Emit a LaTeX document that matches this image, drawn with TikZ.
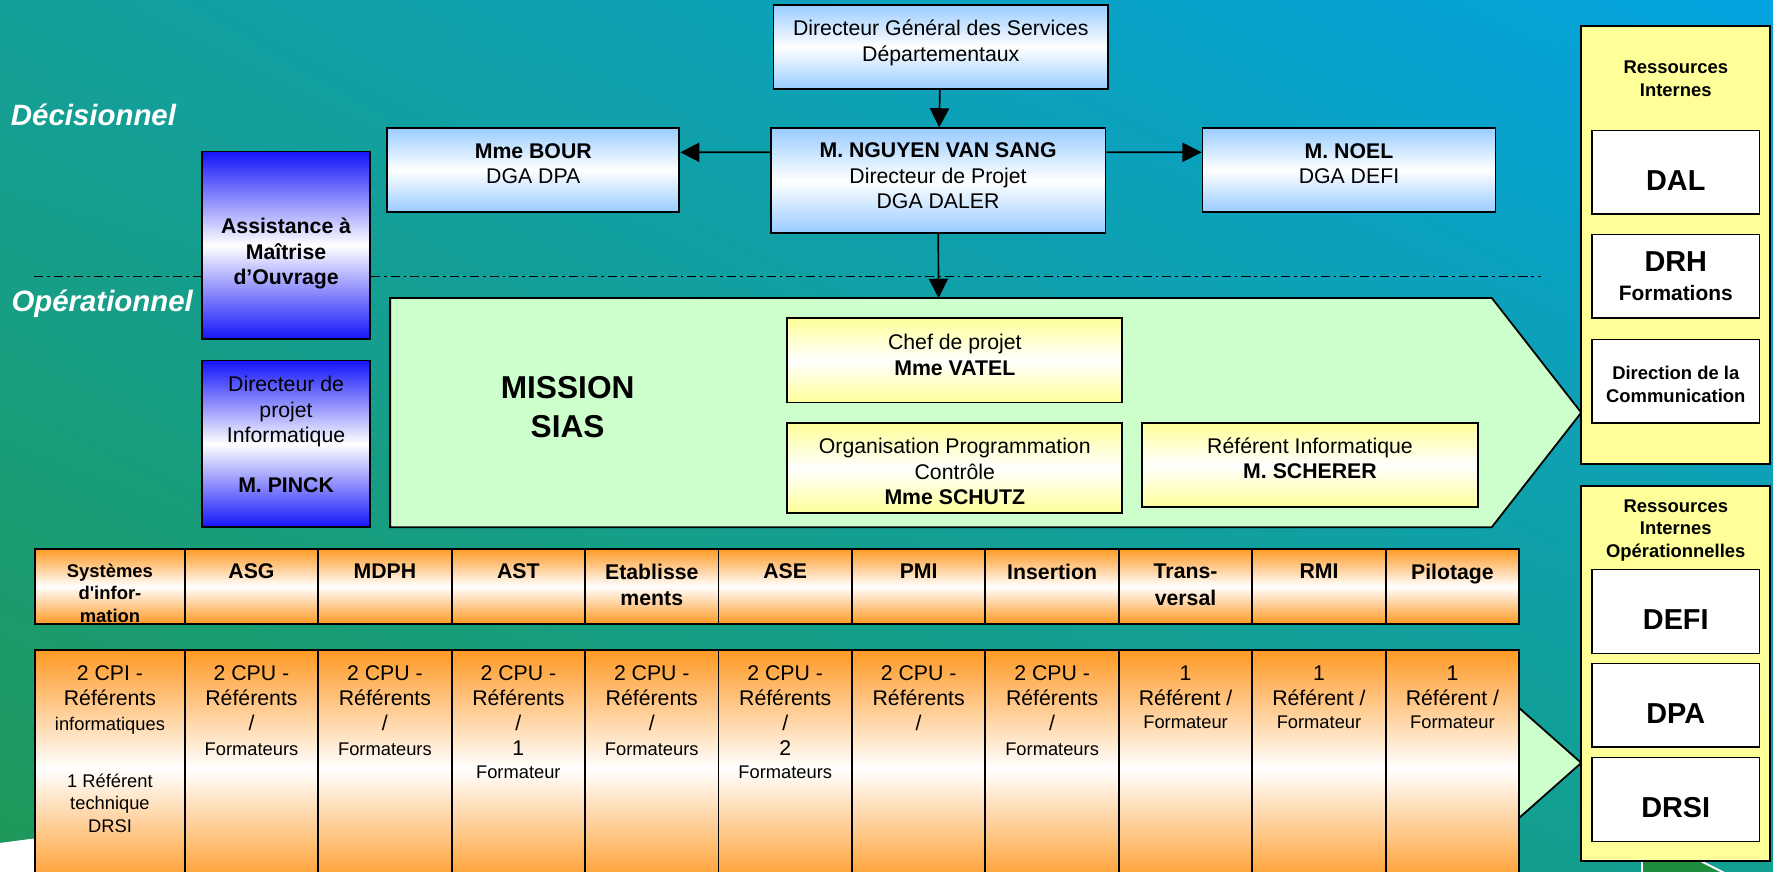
\documentclass[tikz,border=0pt]{standalone}
\usepackage{fontspec}
\setmainfont{Liberation Sans}
\usepackage{tikz}
\usetikzlibrary{shapes,shadings,arrows.meta}

\definecolor{bgtl}{RGB}{19,160,154}
\definecolor{bgtr}{RGB}{4,163,226}
\definecolor{bgbl}{RGB}{31,153,88}
\definecolor{bgbr}{RGB}{18,160,148}
\definecolor{paleblue}{RGB}{153,204,255}
\definecolor{deepblue}{RGB}{20,20,250}
\definecolor{paleyellow}{RGB}{255,255,153}
\definecolor{missiongreen}{RGB}{204,255,204}
\definecolor{deptorange}{RGB}{255,153,36}
\definecolor{logogreen}{RGB}{30,140,60}

\newcommand{\txtnormal}{\fontsize{18.8}{22.5}\selectfont}
\newcommand{\txtcell}{\fontsize{18.8}{22}\selectfont}
\newcommand{\txtsmall}{\fontsize{16.2}{20}\selectfont}
\newcommand{\txtpanel}{\fontsize{16.3}{20}\selectfont\bfseries}
\newcommand{\txtbig}{\fontsize{25.5}{30}\selectfont\bfseries}
\newcommand{\txtlevel}{\fontsize{26}{30}\selectfont\bfseries\itshape}
\newcommand{\txtmission}{\fontsize{28}{34}\selectfont\bfseries}

\begin{document}
\begin{tikzpicture}[x=1pt, y=-1pt,
  box/.style={draw, line width=1.6pt, align=center, font=\txtnormal, inner sep=2pt},
  bluebox/.style={box, top color=paleblue, bottom color=paleblue, middle color=white},
  deepbox/.style={box, top color=deepblue, bottom color=deepblue, middle color=white, minimum width=149pt},
  yellowbox/.style={box, top color=paleyellow, bottom color=paleyellow, middle color=white, minimum width=296.3pt},
  panel/.style={draw, line width=1.6pt, fill=paleyellow, minimum width=167pt},
  paneltext/.style={align=center, inner sep=0pt, font=\txtpanel},
  whitebox/.style={draw, line width=1.3pt, fill=white, minimum width=148pt, minimum height=74pt, align=center},
  bigname/.style={font=\txtbig, text height=32pt, text depth=0pt},
  headcell/.style={draw, line width=1.6pt, top color=deptorange, bottom color=deptorange, middle color=white, minimum height=66.6pt},
  bodycell/.style={draw, line width=1.6pt, top color=deptorange, bottom color=deptorange, middle color=white, minimum height=210pt},
  celltext/.style={anchor=north, inner sep=0pt, align=center},
  leveltext/.style={anchor=west, inner sep=0pt, text=white, font=\txtlevel},
  levelline/.style={line width=1.3pt, dash pattern=on 8pt off 3.5pt on 2.5pt off 3.5pt},
  link/.style={line width=1.5pt, -{Triangle[length=17pt,width=17pt]}},
]
\useasboundingbox (0,0) rectangle (1568,771);
\clip (0,0) rectangle (1568,771);
% slide background
\shade[upper left=bgtl, upper right=bgtr, lower left=bgbl, lower right=bgbr] (0,0) rectangle (1568,771);
\fill[white] (0,745.5) .. controls (12,744) and (25,742) .. (40,740.5) -- (40,775) -- (0,775) -- cycle;
\fill[logogreen] (1452,762) -- (1505,762) -- (1527,775) -- (1452,775) -- cycle;
\draw[white, line width=2pt] (1452,762) -- (1452,775);
\draw[white, line width=1.6pt] (1505,762) -- (1527,773);

% levels
\node[leveltext] (decision) at (9.5,101.7) {Décisionnel};
\node[leveltext] (operation) at (10,269) {Opérationnel};
\draw[levelline] (30.4,244.6) -- (1363,244.6);

% direction (trailing empty lines lift the text as on the slide)
\node[bluebox, minimum width=296pt, minimum height=74.3pt] (dgs) at (832,41.5) {Directeur Général des Services\\Départementaux\\[-11.5pt]\mbox{}};
\node[bluebox, minimum width=296pt, minimum height=92.2pt] (nguyen) at (829.6,159.6) {\textbf{M. NGUYEN VAN SANG}\\Directeur de Projet\\DGA DALER\\[-14.5pt]\mbox{}};
\node[bluebox, minimum width=258.4pt, minimum height=74.5pt] (bour) at (471.6,150.2) {\textbf{Mme BOUR}\\DGA DPA\\[-11.5pt]\mbox{}};
\node[bluebox, minimum width=259pt, minimum height=74.5pt] (noel) at (1193,150.2) {\textbf{M. NOEL}\\DGA DEFI\\[-11.5pt]\mbox{}};

% assistance and IT project director
\node[deepbox, minimum height=166pt, font=\txtnormal\bfseries] (amo) at (253,217) {\mbox{}\\[6.3pt]Assistance à\\Maîtrise\\d’Ouvrage};
\node[deepbox, minimum height=147.6pt] (pinck) at (253,392.6) {Directeur de\\projet\\Informatique\\[21.7pt]\textbf{M. PINCK}\\[-5.5pt]\mbox{}};

% mission
\draw[line width=1.6pt, fill=missiongreen] (345,263.5) -- (1319.3,263.5) -- (1398.4,364.9) -- (1319.3,466.2) -- (345,466.2) -- cycle;
\coordinate (missiontop) at (830,263.5);
\node[font=\txtmission, align=center] (mission) at (502,360) {MISSION\\SIAS};
\node[yellowbox, minimum height=74.6pt] (chef) at (844.4,318.7) {Chef de projet\\\textbf{Mme VATEL}\\[-12.5pt]\mbox{}};
\node[yellowbox, minimum height=79.6pt] (opc) at (844.4,414) {\mbox{}\\[-2.8pt]Organisation Programmation\\Contrôle\\\textbf{Mme SCHUTZ}};
\node[yellowbox, minimum width=297pt, minimum height=74.3pt] (scherer) at (1158.5,411.4) {Référent Informatique\\\textbf{M. SCHERER}\\[-10.5pt]\mbox{}};

\draw[link] (dgs) -- (nguyen);
\draw[link] ([yshift=24.9pt]nguyen.west) -- ([yshift=15.5pt]bour.east);
\draw[link] ([yshift=24.9pt]nguyen.east) -- ([yshift=15.5pt]noel.west);
\draw[link] (nguyen) -- (missiontop);

% departments
\draw[line width=1.6pt, fill=missiongreen] (1343.5,626.1) -- (1398.4,674.7) -- (1343.5,723.3);
\node[headcell, minimum width=132.3pt] (head1) at (97.25,518.6) {};
\node[celltext, font=\txtpanel] (headtext1) at (97.25,498.2) {Systèmes\\d\textquotesingle infor-\\mation};
\node[bodycell, minimum width=132.3pt] (body1) at (97.25,679.6) {};
\node[celltext, font=\txtcell] (bodytext1) at (97.25,588.5) {2 CPI -\\Référents\\{\txtsmall informatiques}\\[28.5pt]{\txtsmall 1 Référent}\\[-2pt]{\txtsmall technique}\\[-2pt]{\txtsmall DRSI}};
\foreach \i/\name in {2/ASG, 3/MDPH, 4/AST, 5/{Etablisse\\ments}, 6/ASE, 7/PMI, 8/Insertion, 9/{Trans-\\versal}, 10/RMI, 11/Pilotage} {
  \pgfmathsetmacro{\xc}{163.4+(\i-2)*118.01+59}
  \node[headcell, minimum width=118.01pt] (head\i) at (\xc,518.6) {};
  \node[celltext, font=\fontsize{18.8}{23.5}\selectfont\bfseries] (headtext\i) at (\xc,498.5) {\name};
}
\foreach \i/\staff in {2/{2 CPU -\\Référents\\/\\{\txtsmall Formateurs}},
    3/{2 CPU -\\Référents\\/\\{\txtsmall Formateurs}},
    4/{2 CPU -\\Référents\\/\\1\\[-1pt]{\txtsmall Formateur}},
    5/{2 CPU -\\Référents\\/\\{\txtsmall Formateurs}},
    6/{2 CPU -\\Référents\\/\\2\\[-1pt]{\txtsmall Formateurs}},
    7/{2 CPU -\\Référents\\/},
    8/{2 CPU -\\Référents\\/\\{\txtsmall Formateurs}},
    9/{1\\Référent /\\[-1.5pt]{\txtsmall Formateur}},
    10/{1\\Référent /\\[-1.5pt]{\txtsmall Formateur}},
    11/{1\\Référent /\\[-1.5pt]{\txtsmall Formateur}}} {
  \pgfmathsetmacro{\xc}{163.4+(\i-2)*118.01+59}
  \node[bodycell, minimum width=118.01pt] (body\i) at (\xc,679.6) {};
  \node[celltext, font=\txtcell] (bodytext\i) at (\xc,588.5) {\staff};
}

% internal resources
\node[panel, minimum height=387.7pt] (resint) at (1482,216.5) {};
\node[paneltext] (resinttext) at (1482,69.5) {Ressources\\Internes};
\node[whitebox, bigname] (dal) at (1482,152.2) {DAL};
\node[whitebox, font=\txtbig] (drh) at (1482,244.2) {DRH\\[-4pt]{\fontsize{18.5}{22}\selectfont Formations}};
\node[whitebox, font=\txtpanel] (dircom) at (1482,337.1) {\mbox{}\\[-2.1pt]Direction de la\\Communication};
\node[panel, minimum height=332.1pt] (resop) at (1482,595.7) {};
\node[paneltext] (resoptext) at (1482,469) {Ressources\\Internes\\Opérationnelles};
\node[whitebox, bigname] (defi) at (1482,540.7) {DEFI};
\node[whitebox, bigname] (dpa) at (1482,623.8) {DPA};
\node[whitebox, bigname] (drsi) at (1482,707.1) {DRSI};
\end{tikzpicture}
\end{document}
